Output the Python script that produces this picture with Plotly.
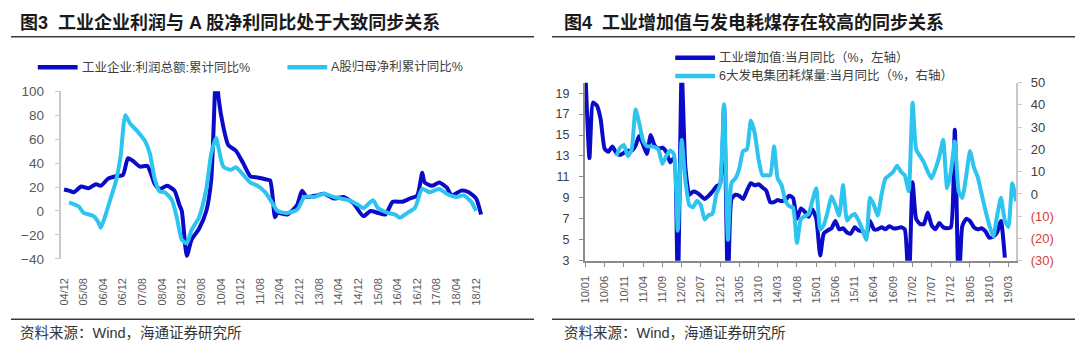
import plotly.graph_objects as go
import pandas as pd

W, H = 1080, 354
def px(x):
    return x / W
def py(y):
    return 1 - y / H

DARK = "#0A0AC8"
LIGHT = "#2EC4F0"
CJK = "Noto Sans CJK SC"
NUM = "Liberation Sans, Arial, " + CJK

# ---------------- Figure 3 data (cumulative YoY, %) ----------------
profit_dates = ["2004-12", "2005-02", "2005-04", "2005-07", "2005-10", "2006-01", "2006-03", "2006-06",
                "2006-09", "2006-12", "2007-02", "2007-04", "2007-07", "2007-10", "2008-01", "2008-03",
                "2008-06", "2008-09", "2008-11", "2008-12", "2009-02", "2009-04", "2009-07", "2009-10",
                "2009-12", "2010-02", "2010-03", "2010-05", "2010-07", "2010-10", "2011-01", "2011-04",
                "2011-07", "2011-10", "2011-12", "2012-02", "2012-03", "2012-07", "2012-11", "2013-01",
                "2013-03", "2013-07", "2013-10", "2014-02", "2014-06", "2014-10", "2015-02", "2015-05",
                "2015-08", "2015-11", "2016-02", "2016-06", "2016-09", "2016-12", "2017-02", "2017-03",
                "2017-06", "2017-09", "2017-12", "2018-02", "2018-06", "2018-09", "2018-12", "2019-02"]
profit_yoy = [18, 17, 15.7, 20.5, 19, 22.4, 21, 27,
              29, 30, 44, 42, 37, 37.6, 22.4, 18.4,
              21, 17, 5, 0, -37.5, -24, -15, 0,
              26, 120, 95, 70, 55, 50.5, 40, 29,
              28, 26.5, 25.5, -5.2, -1.6, -3, 5, 17,
              11.7, 13, 14.4, 10.4, 11.7, 6.4, -4.3, 0,
              -1.6, -3, 7.7, 7.7, 10.4, 13, 32, 24,
              21, 23.7, 19.7, 13, 17, 15.7, 10.4, -3]

ashare_dates = ["2005-02", "2005-06", "2005-08", "2005-12", "2006-02", "2006-03", "2006-05", "2006-07",
                "2006-09", "2006-11", "2007-01", "2007-03", "2007-06", "2007-09", "2007-11", "2008-01",
                "2008-03", "2008-05", "2008-08", "2008-10", "2008-12", "2009-02", "2009-04", "2009-07",
                "2009-10", "2009-12", "2010-02", "2010-03", "2010-05", "2010-08", "2010-10", "2011-01",
                "2011-04", "2011-07", "2011-10", "2012-01", "2012-03", "2012-07", "2012-11", "2013-02",
                "2013-06", "2013-10", "2014-02", "2014-08", "2014-12", "2015-02", "2015-06", "2015-08",
                "2015-12", "2016-03", "2016-05", "2016-08", "2016-11", "2017-02", "2017-05", "2017-09",
                "2017-12", "2018-04", "2018-07", "2018-10", "2018-12"]
ashare_yoy = [7.2, 3.7, -1.6, -4.3, -9.6, -14, -3, 10.4,
              23.7, 45, 80, 73, 66.4, 58.4, 47.7, 26.4,
              16.3, 15.7, 9, -5.6, -24, -27, -16, -5.6,
              18.4, 47.7, 61, 53, 37, 34.4, 36.5, 30.4,
              23.7, 21, 15.7, 6.4, 0, -1.6, 1, 11.7,
              11.7, 14.4, 11.7, 9, 5, 2.4, 9, 2.4,
              -1.6, -3, -5.6, -1.6, 2.4, 18.4, 15.7, 18.4,
              14.4, 11.7, 13, 7.7, 0]

# ---------------- Figure 4 data (monthly YoY, %) ----------------
month_dates = pd.date_range("2010-01-01", "2019-05-01", freq="MS")
iva_yoy = [20.7, 12.8, 18.1, 17.8, 16.5, 13.7, 13.4, 13.9, 13.3, 13.1, 13.3, 13.5,
           13.5, 14.0, 14.9, 14.1, 13.2, 15.0, 14.0, 13.7, 13.8, 13.4, 12.4, 12.8,
           0, 21.3, 11.9, 9.3, 9.6, 9.5, 9.2, 8.9, 9.2, 9.6, 10.1, 10.3,
           17.8, 0, 8.9, 9.3, 9.2, 8.9, 9.7, 10.4, 10.2, 10.3, 10.0, 9.7,
           8.6, 8.6, 8.8, 8.7, 8.8, 9.2, 9.0, 7.0, 8.0, 7.7, 7.2, 7.9,
           7.0, 3.5, 5.6, 5.9, 6.1, 6.8, 6.0, 6.1, 5.7, 5.6, 6.2, 5.9,
           5.8, 5.4, 6.8, 6.0, 6.0, 6.2, 6.0, 6.3, 6.1, 6.1, 6.2, 6.0,
           0, 10.5, 7.0, 6.5, 6.5, 7.6, 6.4, 6.0, 6.6, 6.2, 6.1, 6.2,
           15.5, 0, 6.3, 7.0, 6.8, 6.2, 6.0, 6.1, 5.8, 5.2, 5.3, 5.7,
           6.8, 3.3, None, None, None]
coal_yoy = [None, None, None, None, None, None, None, None, 17, 20.7, 22, 17,
            20, 38, 32, 24, 21.4, 21.4, 21, 20, 13.5, 17, 19.5, 18,
            -16.5, 24.3, 6, -5, -6, -3, -5, -11.5, -9.5, -9, 0, 4,
            40.3, -20.6, 5, 7, 11.3, 19.3, 20, 33, 27.3, 15.7, 8.4, 8.4,
            8.4, 21.4, 7, 4, -3, -5.5, -6.1, -22, -11.2, -10, -9, -3,
            2.6, -16, -14, -8, -1, -5, -9.7, 4, -11.9, -10, -9, -11.9,
            -16, -20.6, -1.7, -5, -9.7, 0, 7, 8.4, 10, 12.7, 10, 8.4,
            1.2, 41, 20, 17, 14.2, 10, 7, 11.3, 17, 24.3, 2.6, 10,
            23.6, 1.2, -1.7, 8, 19.3, 12, 7.7, 0, -7.5, -14, -19.1, -10,
            -1.7, -12, -14.8, 4.8, -3.2]

left_yticks = [-40, -20, 0, 20, 40, 60, 80, 100]
right_lticks = [3, 5, 7, 9, 11, 13, 15, 17, 19]
right_rticks = [-30, -20, -10, 0, 10, 20, 30, 40, 50]
right_rtext = [("<span style='color:#D83A3A'>(%d)</span>" % abs(v)) if v < 0 else str(v) for v in right_rticks]

fig = go.Figure()

# Figure 3 lines
fig.add_trace(go.Scatter(x=profit_dates, y=profit_yoy, mode="lines", name="工业企业:利润总额:累计同比%",
                         line=dict(color=DARK, width=4, shape="spline", smoothing=0.6),
                         xaxis="x", yaxis="y", showlegend=False))
fig.add_trace(go.Scatter(x=ashare_dates, y=ashare_yoy, mode="lines", name="A股归母净利累计同比%",
                         line=dict(color=LIGHT, width=4, shape="spline", smoothing=0.6),
                         xaxis="x", yaxis="y", showlegend=False))
# Figure 4 lines
fig.add_trace(go.Scatter(x=month_dates, y=iva_yoy, mode="lines", name="工业增加值:当月同比（%，左轴）",
                         line=dict(color=DARK, width=4, shape="spline", smoothing=0.5),
                         xaxis="x2", yaxis="y2", showlegend=False, connectgaps=False))
fig.add_trace(go.Scatter(x=month_dates, y=coal_yoy, mode="lines", name="6大发电集团耗煤量:当月同比（%，右轴）",
                         line=dict(color=LIGHT, width=4, shape="spline", smoothing=0.5),
                         xaxis="x2", yaxis="y4", showlegend=False))

xtickfont = dict(family=NUM, size=11, color="#595959")

left_xrange = ["2004-10-20", "2019-03-01"]
fig.update_layout(
    width=W, height=H, margin=dict(l=0, r=0, t=0, b=0),
    paper_bgcolor="white", plot_bgcolor="white", showlegend=False,
    xaxis=dict(domain=[px(55), px(480)], anchor="y", type="date", range=left_xrange,
               tick0="2004-12-01", dtick="M8", tickformat="%y/%m", tickangle=-90,
               showline=False, ticks="", showgrid=False, zeroline=False,
               tickfont=xtickfont, ticklabelstandoff=16),
    xaxis3=dict(overlaying="x", anchor="free", position=py(213), type="date", range=left_xrange,
                tick0="2004-12-01", dtick="M8", showticklabels=False,
                showline=True, linecolor="#C8C8C8", linewidth=2, ticks="outside", ticklen=4,
                tickcolor="#C8C8C8", tickwidth=1.5, showgrid=False, zeroline=False),
    yaxis=dict(domain=[py(263), py(88)], anchor="x", range=[-40, 100], tickvals=left_yticks,
               showline=True, linecolor="#C8C8C8", linewidth=2, ticks="outside", ticklen=4,
               tickcolor="#C8C8C8", showgrid=False, zeroline=False,
               tickfont=dict(family=NUM, size=13.5, color="#595959"), ticklabelstandoff=8),
    xaxis2=dict(domain=[px(582), px(1016)], anchor="y2", type="date",
                range=["2009-12-26", "2019-05-03"], tick0="2010-01-01", dtick="M5",
                tickformat="%y/%m", tickangle=-90, showline=True, linecolor="#8C8C8C", linewidth=1.5,
                ticks="outside", ticklen=4, tickcolor="#8C8C8C", showgrid=False, zeroline=False,
                tickfont=xtickfont, ticklabelstandoff=5),
    yaxis2=dict(domain=[py(265), py(79)], anchor="x2", range=[3, 20], tickvals=right_lticks,
                showline=True, linecolor="#8C8C8C", linewidth=1.5, ticks="outside", ticklen=4,
                tickcolor="#8C8C8C", showgrid=False, zeroline=False,
                tickfont=dict(family=NUM, size=12.5, color="#404040"), ticklabelstandoff=7),
    yaxis4=dict(overlaying="y2", anchor="x2", side="right", range=[-30, 50], tickvals=right_rticks,
                ticktext=right_rtext, showline=True, linecolor="#C8C8C8", linewidth=1.5,
                ticks="outside", ticklen=4, tickcolor="#C8C8C8", showgrid=False, zeroline=False,
                tickfont=dict(family=NUM, size=13, color="#404040"), ticklabelstandoff=6),
)

shapes = []
annotations = []
# Titles and rules
for (x0, x1) in [(5, 531), (549, 1075)]:
    shapes.append(dict(type="line", xref="paper", yref="paper", x0=px(x0), x1=px(x1), y0=py(31), y1=py(31),
                       line=dict(color="#3A3A3A", width=1.5)))
    shapes.append(dict(type="line", xref="paper", yref="paper", x0=px(x0), x1=px(x1), y0=py(326), y1=py(326),
                       line=dict(color="#3A3A3A", width=1.5)))
annotations.append(dict(text="<b>图3  工业企业利润与 A 股净利同比处于大致同步关系</b>", x=px(12), y=py(16),
                        xref="paper", yref="paper", xanchor="left", yanchor="middle", showarrow=False,
                        font=dict(family="Liberation Sans, " + CJK, size=18, color="#1A1A1A")))
annotations.append(dict(text="<b>图4  工业增加值与发电耗煤存在较高的同步关系</b>", x=px(559), y=py(16),
                        xref="paper", yref="paper", xanchor="left", yanchor="middle", showarrow=False,
                        font=dict(family="Liberation Sans, " + CJK, size=18, color="#1A1A1A")))
for xs in [12, 559]:
    annotations.append(dict(text="资料来源：Wind，海通证券研究所", x=px(xs), y=py(340),
                            xref="paper", yref="paper", xanchor="left", yanchor="middle", showarrow=False,
                            font=dict(family="Liberation Sans, " + CJK, size=14.5, color="#333333")))

# Legends (drawn manually)
legend_items = [
    (32, 72, 63, DARK, "工业企业:利润总额:累计同比%"),
    (283, 323, 63, LIGHT, "A股归母净利累计同比%"),
    (673, 713, 53, DARK, "工业增加值:当月同比（%，左轴）"),
    (673, 713, 72, LIGHT, "6大发电集团耗煤量:当月同比（%，右轴）"),
]
for x0, x1, yy, col, txt in legend_items:
    shapes.append(dict(type="line", xref="paper", yref="paper", x0=px(x0), x1=px(x1), y0=py(yy), y1=py(yy),
                       line=dict(color=col, width=4.5)))
    annotations.append(dict(text=txt, x=px(x1 + 2), y=py(yy), xref="paper", yref="paper", xanchor="left",
                            yanchor="middle", showarrow=False,
                            font=dict(family="Liberation Sans, " + CJK, size=12.5, color="#404040")))

fig.update_layout(shapes=shapes, annotations=annotations)
fig.write_html("out.html")
